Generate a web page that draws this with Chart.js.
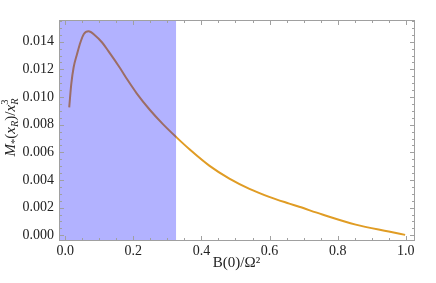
<!DOCTYPE html>
<html><head><meta charset="utf-8">
<script src="https://cdn.jsdelivr.net/npm/chart.js@4.4.1/dist/chart.umd.min.js"></script>
<style>html,body{margin:0;padding:0;background:#fff}#wrap{position:relative;width:436px;height:283px}</style>
</head><body><div id="wrap"><canvas id="c"></canvas></div>
<script>
// ---- data ----
const bValues = [0.012, 0.018, 0.025, 0.035, 0.045, 0.055, 0.069, 0.088, 0.108, 0.127, 0.161, 0.182, 0.210, 0.249, 0.287, 0.327, 0.365, 0.424, 0.482, 0.541, 0.599, 0.658, 0.687, 0.755, 0.853, 0.950, 0.998];
const mValues = [0.00925, 0.01094, 0.01215, 0.01311, 0.01396, 0.01456, 0.01475, 0.01445, 0.01396, 0.01332, 0.01210, 0.01128, 0.01027, 0.00906, 0.00804, 0.00708, 0.00622, 0.00502, 0.00410, 0.00336, 0.00278, 0.00229, 0.00206, 0.00150, 0.00077, 0.00027, 0.00003];
const xTickValues = [0.0, 0.2, 0.4, 0.6, 0.8, 1.0];
const yTickValues = [0.000, 0.002, 0.004, 0.006, 0.008, 0.010, 0.012, 0.014];
const shadedUpTo = 0.326;
const xAxisTitle = 'B(0)/\u03A9\u00B2';
const yAxisTitle = 'M*(xR)/xR^3';

// ---- axis ranges ----
const xMin = -0.018, xMax = 1.024;
const yMin = -0.00034, yMax = 0.01557;
const xMinorStep = 0.05, yMinorStep = 0.0005;

const lineColor = 'rgb(224,156,36)';
const frameColor = '#a0a0a0';
const serif = "'Liberation Serif', 'Times New Roman', serif";

const curve = bValues.map((b, i) => ({x: b, y: mValues[i]}));
const shade = [{x: xMin, y: yMax}, {x: shadedUpTo, y: yMax}];

const framePlugin = {
  id: 'frameTicks',
  afterDraw(chart) {
    const {ctx, chartArea: a, scales: {x, y}} = chart;
    ctx.save();
    ctx.strokeStyle = frameColor;
    ctx.lineWidth = 1;
    const L = Math.round(a.left) + 0.5, R = Math.round(a.right) + 0.5, T = Math.round(a.top) + 0.5, B = Math.round(a.bottom) + 0.5;
    ctx.strokeRect(L, T, R - L, B - T);
    ctx.beginPath();
    const isMajor = (v, arr) => arr.some(m => Math.abs(m - v) < 1e-9);
    for (let k = Math.ceil(xMin / xMinorStep); k * xMinorStep <= xMax; k++) {
      const v = k * xMinorStep;
      const len = isMajor(v, xTickValues) ? 4.5 : 2.5;
      const p = Math.round(x.getPixelForValue(v)) + 0.5;
      ctx.moveTo(p, B); ctx.lineTo(p, B - len);
      ctx.moveTo(p, T); ctx.lineTo(p, T + len);
    }
    for (let k = Math.ceil(yMin / yMinorStep); k * yMinorStep <= yMax; k++) {
      const v = k * yMinorStep;
      const len = isMajor(v, yTickValues) ? 4.5 : 2.5;
      const p = Math.round(y.getPixelForValue(v)) + 0.5;
      ctx.moveTo(L, p); ctx.lineTo(L + len, p);
      ctx.moveTo(R, p); ctx.lineTo(R - len, p);
    }
    ctx.stroke();

    // y-axis title with sub/superscripts
    const size = 15;
    const parts = [
      {t: 'M', it: true, s: 1, dy: 0},
      {t: '*', it: false, s: 0.7, dy: 3},
      {t: '(', it: false, s: 1, dy: 0},
      {t: 'x', it: true, s: 1, dy: 0},
      {t: 'R', it: true, s: 0.7, dy: 3},
      {t: ')/', it: false, s: 1, dy: 0},
      {t: 'x', it: true, s: 1, dy: 0},
      {t: 'R', it: true, s: 0.7, dy: 3},
      {t: '3', it: false, s: 0.7, dy: -7.5}
    ];
    const fontOf = p => (p.it ? 'italic ' : '') + (size * p.s).toFixed(1) + 'px ' + serif;
    let w = 0;
    parts.forEach(p => { ctx.font = fontOf(p); p.w = ctx.measureText(p.t).width; w += p.w; });
    w -= parts[7].w;
    const cy = (a.top + a.bottom) / 2 - 2;
    ctx.translate(15, cy);
    ctx.rotate(-Math.PI / 2);
    ctx.fillStyle = '#222';
    ctx.textBaseline = 'alphabetic';
    let xx = -w / 2;
    parts.forEach((p, i) => {
      ctx.font = fontOf(p);
      if (i === 8) xx -= parts[7].w;
      ctx.fillText(p.t, xx, p.dy);
      xx += p.w;
    });
    ctx.restore();
  }
};

function build() {
  new Chart(document.getElementById('c'), {
    type: 'line',
    data: {
      datasets: [
        {
          label: 'shaded',
          data: shade,
          borderWidth: 0,
          borderColor: 'rgba(0,0,0,0)',
          backgroundColor: 'rgba(0,0,255,0.3)',
          fill: 'start',
          pointRadius: 0
        },
        {
          label: 'M',
          data: curve,
          borderColor: lineColor,
          borderWidth: 2,
          pointRadius: 0,
          fill: false,
          cubicInterpolationMode: 'monotone'
        }
      ]
    },
    options: {
      responsive: true,
      maintainAspectRatio: false,
      animation: false,
      devicePixelRatio: 1,
      layout: {padding: {top: 20, right: 22, left: 0, bottom: 0}},
      plugins: {legend: {display: false}, tooltip: {enabled: false}},
      scales: {
        x: {
          type: 'linear', min: xMin, max: xMax,
          afterBuildTicks: s => { s.ticks = xTickValues.map(v => ({value: v})); },
          afterFit: s => { s.height = 43; },
          grid: {display: false, drawTicks: false},
          border: {display: false},
          ticks: {
            callback: v => Number(v).toFixed(1),
            font: {family: serif, size: 14},
            color: '#222',
            padding: 3,
            maxRotation: 0, autoSkip: false
          },
          title: {display: true, text: xAxisTitle, font: {family: serif, size: 15}, color: '#222', padding: {top: 0, bottom: 11}}
        },
        y: {
          type: 'linear', min: yMin, max: yMax,
          afterBuildTicks: s => { s.ticks = yTickValues.map(v => ({value: v})); },
          afterFit: s => { s.width = 59; },
          grid: {display: false, drawTicks: false},
          border: {display: false},
          ticks: {
            callback: v => Number(v).toFixed(3),
            font: {family: serif, size: 14},
            color: '#222',
            padding: 5,
            autoSkip: false
          },
          title: {display: false, text: yAxisTitle}
        }
      }
    },
    plugins: [framePlugin]
  });
}
Promise.all([
  document.fonts.load("14px 'Liberation Serif'"),
  document.fonts.load("italic 15px 'Liberation Serif'")
]).catch(() => {}).then(build);
</script>
</body></html>
